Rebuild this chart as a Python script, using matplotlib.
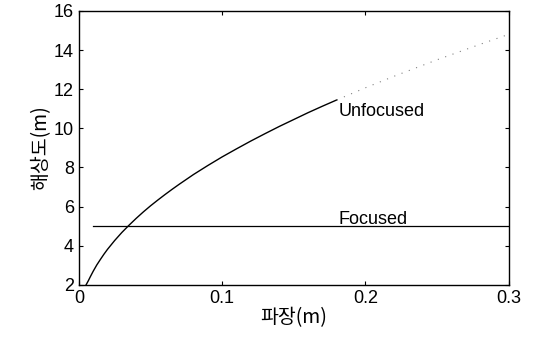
import matplotlib.pyplot as plt

plt.rcParams['font.family'] = ['Liberation Sans', 'Noto Sans CJK KR', 'DejaVu Sans']

# wavelength (m) vs resolution (m)
wavelength = [0.005, 0.0065, 0.008, 0.01, 0.0125, 0.015, 0.0175, 0.02, 0.025, 0.03,
              0.035, 0.04, 0.045, 0.05, 0.055, 0.06, 0.065, 0.07, 0.075, 0.08,
              0.085, 0.09, 0.095, 0.1, 0.11, 0.12, 0.13, 0.14, 0.15, 0.16, 0.17, 0.18]
unfocused = [2.0, 2.2, 2.42, 2.7, 3.02, 3.3, 3.57, 3.82, 4.27, 4.68,
             5.05, 5.4, 5.73, 6.04, 6.33, 6.61, 6.88, 7.14, 7.39, 7.64,
             7.87, 8.1, 8.32, 8.54, 8.95, 9.35, 9.73, 10.1, 10.45, 10.8, 11.13, 11.45]
wavelength_tail = [0.18, 0.2, 0.22, 0.25, 0.28, 0.3]
unfocused_tail = [11.45, 12.07, 12.66, 13.5, 14.29, 14.8]
focused_x = [0.01, 0.3]
focused_y = [5.0, 5.0]

fig, ax = plt.subplots(figsize=(5.44, 3.4), dpi=100)
fig.subplots_adjust(left=0.145, right=0.935, top=0.968, bottom=0.162)

ax.plot(wavelength, unfocused, color='black', linewidth=1.0)
ax.plot(wavelength_tail, unfocused_tail, color='gray', linewidth=0.8, linestyle=(0, (1, 6)))
ax.plot(focused_x, focused_y, color='black', linewidth=0.9)

ax.text(0.181, 10.85, 'Unfocused', fontsize=13, va='center')
ax.text(0.181, 5.35, 'Focused', fontsize=13, va='center')

ax.set_xlim(0, 0.3)
ax.set_ylim(2, 16)
ax.set_xticks([0, 0.1, 0.2, 0.3])
ax.set_xticklabels(['0', '0.1', '0.2', '0.3'])
ax.set_yticks([2, 4, 6, 8, 10, 12, 14, 16])
ax.tick_params(direction='in', top=True, right=True, labelsize=13, length=3)
ax.set_xlabel('파장(m)', fontsize=14, family=['Noto Sans CJK KR', 'DejaVu Sans'], labelpad=0)
ax.set_ylabel('해상도(m)', fontsize=14, family=['Noto Sans CJK KR', 'DejaVu Sans'], labelpad=2)
for s in ax.spines.values():
    s.set_linewidth(1.0)

plt.savefig('out.png')
